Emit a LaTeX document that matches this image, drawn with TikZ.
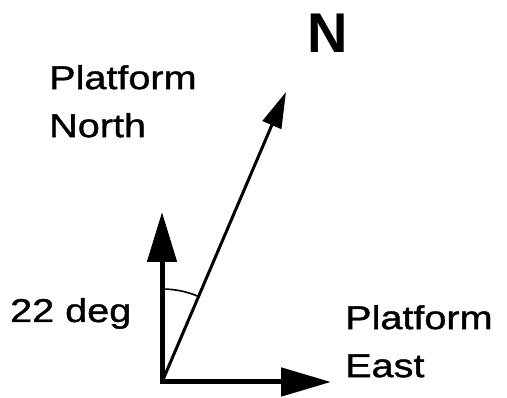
\documentclass[tikz,border=0pt]{standalone}
\usepackage{fontspec}
\setmainfont{Liberation Sans}
\newfontfamily\widefont[FakeStretch=1.2,FakeBold=1.2]{Liberation Sans}
\usetikzlibrary{arrows.meta}

\begin{document}
\begin{tikzpicture}[
  x=1pt, y=1pt,
  label/.style={inner sep=0pt, align=left, font=\widefont\fontsize{33}{48}\selectfont},
  axis/.style={line width=5pt, {Triangle[length=50pt,width=29pt]}-{Triangle[length=50pt,width=28pt]}},
  heading/.style={line width=3pt, -{Triangle[length=36pt,width=20pt]}},
  anglearc/.style={line width=1.6pt}
]
\useasboundingbox (0,0) rectangle (507,398);

\coordinate (origin) at (162,16);
\coordinate (up) at (162,186);
\coordinate (east) at (331,16);
\coordinate (north) at (286,306);

\draw[axis] (up) -- (origin) -- (east);
\draw[heading] (origin) -- (north);
\draw[anglearc] (origin) ++(90:93) arc[start angle=90, end angle=67, radius=93];

\node[label, anchor=north west] (platnorth) at (49,333) {Platform\\North};
\node[label, anchor=north west] (plateast) at (345,93) {Platform\\East};
\node[label, anchor=base west] (angle) at (10,76) {22 deg};
\node[inner sep=0pt, anchor=base, font=\bfseries\fontsize{56}{60}\selectfont] (truenorth) at (328,345) {N};
\end{tikzpicture}
\end{document}
